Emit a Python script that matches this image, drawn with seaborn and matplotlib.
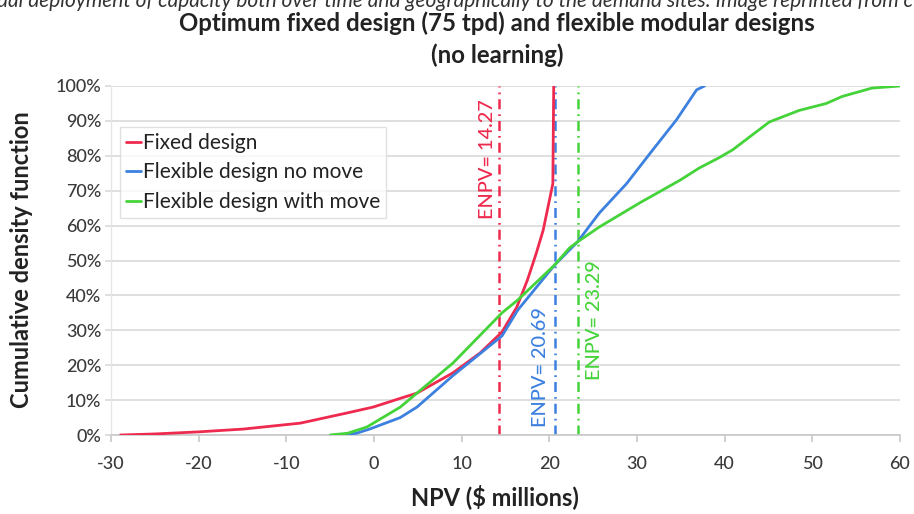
import numpy as np
import pandas as pd
import matplotlib
matplotlib.use("Agg")
import matplotlib.pyplot as plt
import seaborn as sns

# ---- data ----
fixed_x = [-28.9, -25.0, -20.0, -14.9, -8.4, -3.1, -0.1, 3.0, 4.9, 9.0, 12.1, 14.6, 16.3, 17.5, 18.5, 19.3, 20.4, 20.5]
fixed_y = [0.0, 0.3, 0.9, 1.7, 3.4, 6.3, 8.0, 10.5, 12.0, 17.8, 23.5, 29.5, 36.7, 44.4, 52.0, 58.7, 72.0, 100.0]

nomove_x = [-3.9, -2.0, -0.5, 3.0, 4.9, 9.0, 14.6, 16.4, 20.6, 23.2, 25.7, 28.8, 31.8, 34.5, 36.8, 37.7]
nomove_y = [0.0, 0.5, 1.7, 5.0, 8.0, 17.0, 28.4, 35.8, 48.7, 55.3, 63.6, 72.0, 81.7, 90.3, 98.9, 100.0]

move_x = [-5.0, -3.0, -0.8, 3.0, 4.9, 9.0, 14.6, 16.4, 20.6, 22.3, 23.2, 25.7, 30.3, 34.9, 37.1, 39.4,
          40.9, 45.1, 48.5, 51.6, 53.4, 56.8, 60.0]
move_y = [0.0, 0.5, 2.3, 8.0, 12.0, 20.6, 35.0, 38.7, 48.7, 53.6, 55.3, 59.6, 66.5, 73.0, 76.5, 79.5,
          81.7, 89.7, 93.0, 95.0, 97.0, 99.4, 100.0]

series_names = ["Fixed design", "Flexible design no move", "Flexible design with move"]
enpv_values = [14.27, 20.69, 23.29]
x_ticks = [-30, -20, -10, 0, 10, 20, 30, 40, 50, 60]
y_ticks = [0, 10, 20, 30, 40, 50, 60, 70, 80, 90, 100]

colors = ["#ee2a4e", "#3c80e0", "#45d33a"]

df = pd.concat([
    pd.DataFrame({"npv": fixed_x, "cdf": np.array(fixed_y) / 100, "series": series_names[0]}),
    pd.DataFrame({"npv": nomove_x, "cdf": np.array(nomove_y) / 100, "series": series_names[1]}),
    pd.DataFrame({"npv": move_x, "cdf": np.array(move_y) / 100, "series": series_names[2]}),
], ignore_index=True)

sns.set_theme(style="white")
plt.rcParams["font.family"] = ["Lato", "DejaVu Sans"]

W, H = 914, 514
fig = plt.figure(figsize=(W / 100, H / 100), dpi=100)
ax = fig.add_axes([111 / W, 79 / H, 789 / W, 349 / H])

sns.lineplot(data=df, x="npv", y="cdf", hue="series", hue_order=series_names,
             palette=colors, sort=False, estimator=None, linewidth=2.0, ax=ax, zorder=3)

# ENPV vertical lines
label_pos = [(12.9, 0.79), (19.0, 0.195), (25.2, 0.33)]
for v, c, (tx, ty) in zip(enpv_values, colors, label_pos):
    ax.axvline(v, ymin=0, ymax=1.0, color=c, linewidth=1.8,
               linestyle=(0, (4, 2, 0.7, 2)), zorder=2)
    ax.text(tx, ty, f"ENPV= {v:.2f}", rotation=90, color=c, fontsize=14.3,
            fontweight="medium", ha="center", va="center", zorder=4)

ax.set_xlim(-30, 60)
ax.set_ylim(0, 1)
ax.set_xticks(x_ticks)
ax.set_xticklabels([str(t) for t in x_ticks])
ax.set_yticks([t / 100 for t in y_ticks])
ax.set_yticklabels([f"{t}%" for t in y_ticks])
ax.grid(axis="y", color="#d9d9d9", linewidth=1.2)
ax.grid(axis="x", visible=False)
ax.set_axisbelow(True)
for s in ["top", "right"]:
    ax.spines[s].set_visible(False)
ax.spines["left"].set_color("#e6e6e6")
ax.spines["left"].set_linewidth(1.0)
ax.spines["bottom"].set_color("#c8c8c8")
ax.spines["bottom"].set_linewidth(1.2)
ax.tick_params(axis="x", bottom=True, length=5, color="#c8c8c8", width=1.2,
               labelsize=13, labelcolor="#3a3a3a", pad=10)
ax.tick_params(axis="y", left=True, length=4, color="#d9d9d9", width=1.2,
               labelsize=13, labelcolor="#3a3a3a", pad=3)
for lbl in ax.get_xticklabels() + ax.get_yticklabels():
    lbl.set_fontweight("medium")

ax.set_xlabel("NPV ($ millions)", fontsize=17, fontweight="bold", color="#222222")
ax.xaxis.set_label_coords((495 - 111) / 789, (435 - 497) / 349)
ax.xaxis.label.set_va("center")
ax.set_ylabel("Cumulative density function", fontsize=17, fontweight="bold", color="#222222")
ax.yaxis.set_label_coords((22 - 111) / 789, (435 - 260) / 349)
ax.yaxis.label.set_va("center")

leg = ax.legend(loc="upper left", bbox_to_anchor=(0.011, 0.883), fontsize=15,
                frameon=True, fancybox=False, handlelength=0.7, handletextpad=0.1,
                borderpad=0.3, labelspacing=0.45, borderaxespad=0, title=None)
leg.get_frame().set_edgecolor("#d9d9d9")
leg.get_frame().set_linewidth(1.0)
for t in leg.get_texts():
    t.set_color("#222222")

fig.text(-0.003, 1 - 1 / H, "ual deployment of capacity both over time and geographically to the demand sites. Image reprinted from c",
         fontsize=15, style="italic", color="#333333", ha="left", va="center")
fig.text(497 / W, 1 - 23 / H, "Optimum fixed design (75 tpd) and flexible modular designs",
         fontsize=17.3, fontweight="bold", color="#222222", ha="center", va="center")
fig.text(497 / W, 1 - 55 / H, "(no learning)",
         fontsize=17.3, fontweight="bold", color="#222222", ha="center", va="center")

fig.savefig("out.png", dpi=100)
